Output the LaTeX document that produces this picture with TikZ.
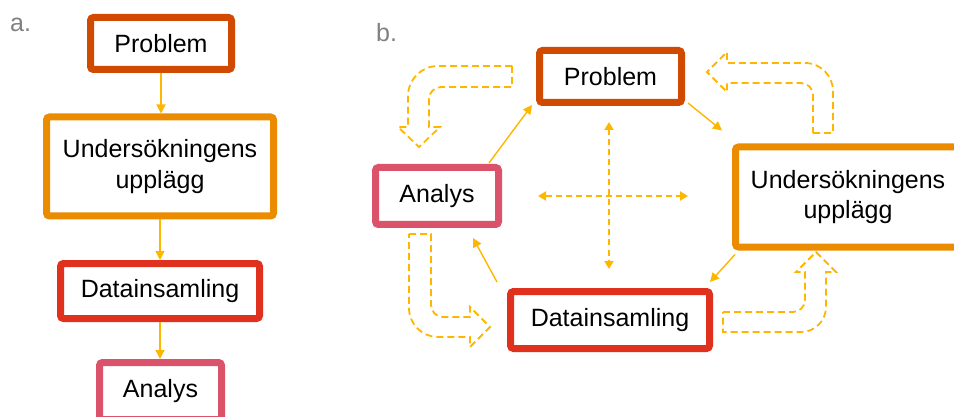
\documentclass[tikz,border=0pt]{standalone}
\usepackage{fontspec}
\setmainfont{Liberation Sans}
\usetikzlibrary{arrows.meta,calc}
\definecolor{cprob}{HTML}{D04A02}
\definecolor{cdesign}{HTML}{EB8C00}
\definecolor{cdata}{HTML}{E0301E}
\definecolor{canal}{HTML}{DB536A}
\definecolor{carrow}{HTML}{FFB600}
\definecolor{clabel}{HTML}{808080}
\begin{document}
\begin{tikzpicture}[x=1pt,y=-1pt,
  box/.style={draw, line width=7pt, rounded corners=3pt, fill=white, inner sep=0pt,
    align=center, text=black, font=\fontsize{25}{30.5}\selectfont},
  panel/.style={anchor=base west, inner sep=0pt, text=clabel, font=\fontsize{25}{30}\selectfont},
  flow/.style={draw=carrow, line width=1.4pt, -{Triangle[length=9pt,width=9pt]}},
  cross/.style={draw=carrow, line width=2pt, dash pattern=on 6pt off 4pt,
    {Triangle[length=8pt,width=9pt]}-{Triangle[length=8pt,width=9pt]}},
  bent/.style={draw=carrow, line width=1.8pt, dash pattern=on 7pt off 4pt, line join=miter}]
\useasboundingbox (0,0) rectangle (954,417);

% panel labels
\node[panel] (la) at (10,32) {a.};
\node[panel] (lb) at (376,42) {b.};

% a. linear sequence
\node[box, draw=cprob,   minimum width=141pt, minimum height=52pt] (aP) at (161,43.5) {Problem};
\node[box, draw=cdesign, minimum width=227pt, minimum height=99pt] (aU) at (160,166.5) {Undersökningens\\upplägg};
\node[box, draw=cdata,   minimum width=199pt, minimum height=55pt] (aD) at (160,291) {Datainsamling};
\node[box, draw=canal,   minimum width=122pt, minimum height=57pt] (aA) at (160.5,391) {Analys};

\draw[flow, line width=1.2pt] (aP.south) -- (aP.south |- aU.north);
\draw[flow, line width=1.2pt] (aU.south) -- (aU.south |- aD.north);
\draw[flow, line width=1.2pt] (aD.south) -- (aD.south |- aA.north);

% b. cycle
\node[box, draw=cprob,   minimum width=142pt, minimum height=52pt]  (bP) at (610.5,76.5) {Problem};
\node[box, draw=cdesign, minimum width=225pt, minimum height=100pt] (bU) at (848,197) {Undersökningens\\upplägg};
\node[box, draw=canal,   minimum width=123pt, minimum height=57pt]  (bA) at (437,196) {Analys};
\node[box, draw=cdata,   minimum width=199pt, minimum height=57pt]  (bD) at (610,320) {Datainsamling};

\draw[flow] ($(bA.north east)+(-13,-1)$) -- ($(bP.south west)+(-4,-1)$);
\draw[flow] ($(bP.south east)+(3,-3)$) -- ($(bU.north west)+(-10,-13)$);
\draw[flow] ($(bU.south west)+(3,4)$) -- ($(bD.north east)+(-3,-6)$);
\draw[flow] ($(bD.north west)+(-10,-6)$) -- ($(bA.south east)+(-29,10)$);

% central cross
\coordinate (cT) at (609,122);
\coordinate (cB) at (609,269);
\coordinate (cL) at (538,196);
\coordinate (cR) at (688,196);
\draw[cross] (cT) -- (cB);
\draw[cross] (cL) -- (cR);

% bent block arrows around the cycle
\draw[bent] (512,66) -- (512,87) -- (441,87)
  arc[start angle=270, end angle=180, radius=12] -- (429,127) -- (440,127) -- (419,147)
  -- (398,127) -- (408,127) -- (408,96)
  arc[start angle=180, end angle=270, radius=30] -- cycle;

\draw[bent] (813,133) -- (833,133) -- (833,91)
  arc[start angle=0, end angle=-90, radius=28] -- (727,63) -- (727,52) -- (707,72)
  -- (727,92) -- (727,83) -- (801,83)
  arc[start angle=-90, end angle=0, radius=12] -- cycle;

\draw[bent] (409,234) -- (431,234) -- (431,305)
  arc[start angle=180, end angle=90, radius=12] -- (470,317) -- (470,307) -- (490,327)
  -- (470,347) -- (470,337) -- (438,337)
  arc[start angle=90, end angle=180, radius=29] -- cycle;

\draw[bent] (723,312) -- (793,312)
  arc[start angle=90, end angle=0, radius=12] -- (805,272) -- (796,272) -- (816,252)
  -- (836,272) -- (826,272) -- (826,307)
  arc[start angle=0, end angle=90, radius=25] -- (723,332) -- cycle;
\end{tikzpicture}
\end{document}
